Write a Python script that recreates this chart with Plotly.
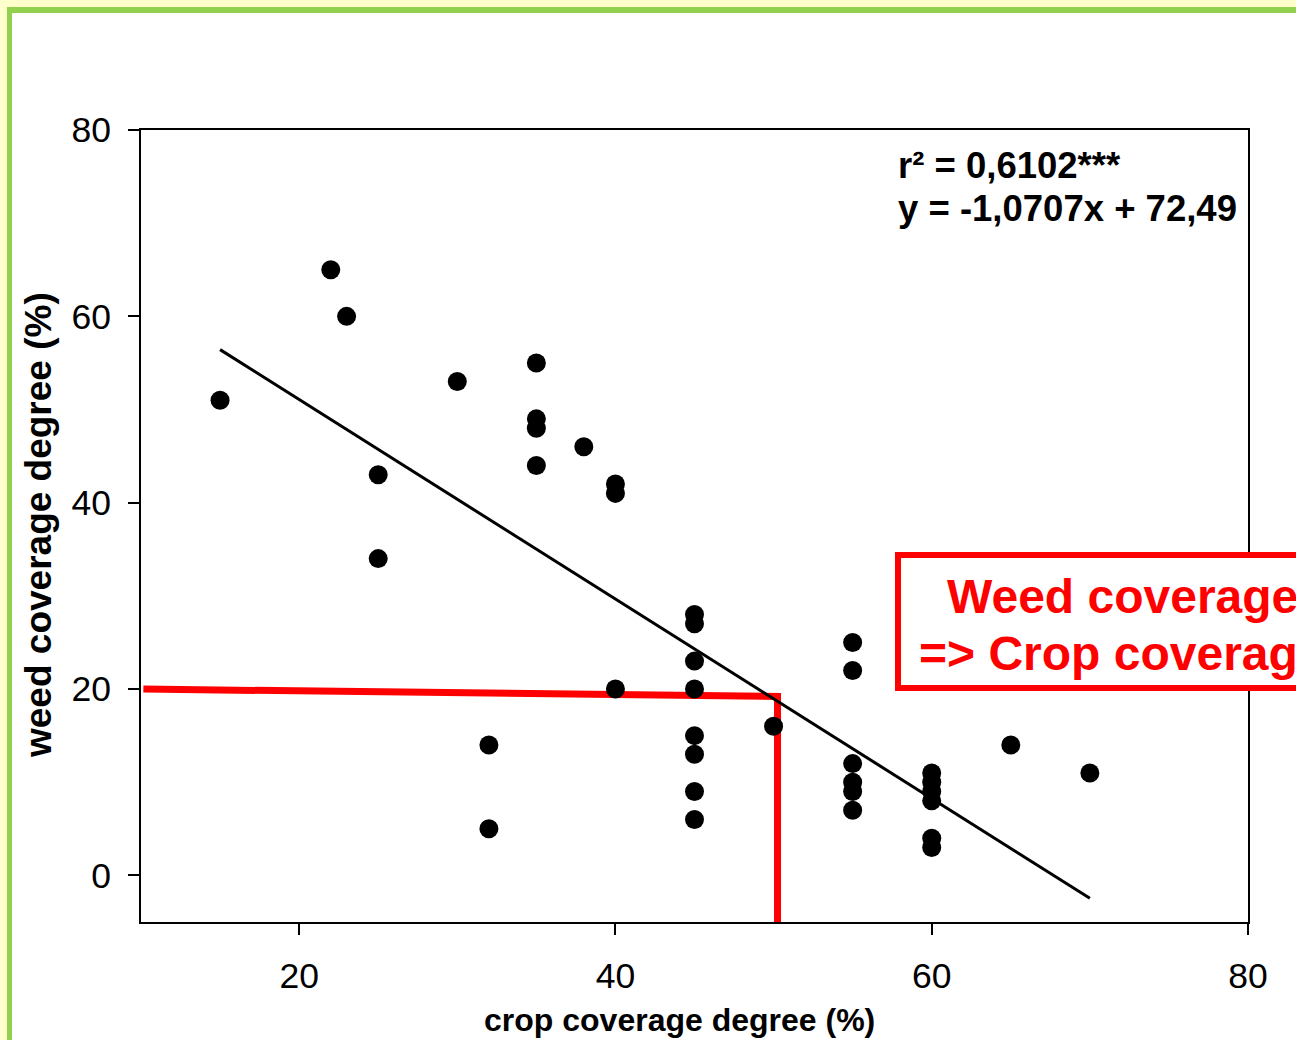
import plotly.graph_objects as go

# ---------------- data ----------------
crop_cov = [15, 22, 23, 25, 25, 30, 32, 32, 35, 35, 35, 35, 38, 40, 40, 40,
            45, 45, 45, 45, 45, 45, 45, 45, 50,
            55, 55, 55, 55, 55, 55,
            60, 60, 60, 60, 60, 60, 65, 70]
weed_cov = [51, 65, 60, 43, 34, 53, 14, 5, 55, 49, 48, 44, 46, 42, 41, 20,
            28, 27, 23, 20, 15, 13, 9, 6, 16,
            25, 22, 12, 10, 9, 7,
            11, 10, 9, 8, 4, 3, 14, 11]

slope = -1.0707
intercept = 72.49
fit_x = [15, 70]
fit_y = [slope * v + intercept for v in fit_x]

threshold_x = [10.15, 50.25, 50.25]
threshold_y = [20, 19.2, -5]

x_ticks = [20, 40, 60, 80]
y_ticks = [0, 20, 40, 60, 80]

r2_text = "r² = 0,6102***"
eq_text = "y = -1,0707x + 72,49"
box_line1 = "Weed coverage < 20 %"
box_line2 = "=> Crop coverage > 50 %"

# ---------------- layout helpers ----------------
W, H = 1296, 1040
L, R, T, B = 141, 48, 130, 118
PW, PH = W - L - R, H - T - B


def px(p):
    return (p - L) / PW


def py(p):
    return (H - B - p) / PH


FONT = "Liberation Sans, Arial, sans-serif"

fig = go.Figure()

fig.add_trace(go.Scatter(
    x=threshold_x, y=threshold_y, mode="lines",
    line=dict(color="#FF0000", width=7), hoverinfo="skip", showlegend=False))

fig.add_trace(go.Scatter(
    x=fit_x, y=fit_y, mode="lines",
    line=dict(color="black", width=3), showlegend=False))

fig.add_trace(go.Scatter(
    x=crop_cov, y=weed_cov, mode="markers",
    marker=dict(color="black", size=19, line=dict(width=0)), showlegend=False))

shapes = [
    # pale yellow outer strip
    dict(type="rect", xref="paper", yref="paper", x0=px(0), x1=px(W), y0=py(0), y1=py(7),
         fillcolor="#FFFFCC", line=dict(width=0), layer="below"),
    dict(type="rect", xref="paper", yref="paper", x0=px(0), x1=px(7), y0=py(0), y1=py(H),
         fillcolor="#FFFFCC", line=dict(width=0), layer="below"),
    # green frame
    dict(type="rect", xref="paper", yref="paper", x0=px(7), x1=px(W), y0=py(7), y1=py(13),
         fillcolor="#92D050", line=dict(width=0), layer="below"),
    dict(type="rect", xref="paper", yref="paper", x0=px(7), x1=px(12), y0=py(7), y1=py(H),
         fillcolor="#92D050", line=dict(width=0), layer="below"),
    # red box
    dict(type="rect", xref="paper", yref="paper", x0=px(898), x1=px(1320), y0=py(555), y1=py(688),
         fillcolor="white", line=dict(color="#FF0000", width=6), layer="above"),
]

annotations = [
    dict(text=r2_text, xref="paper", yref="paper", x=px(896), y=py(165),
         xanchor="left", yanchor="middle", showarrow=False,
         font=dict(family=FONT, size=36.5, color="black", weight="bold")),
    dict(text=eq_text, xref="paper", yref="paper", x=px(896), y=py(208),
         xanchor="left", yanchor="middle", showarrow=False,
         font=dict(family=FONT, size=36.5, color="black", weight="bold")),
    dict(text=box_line1, xref="paper", yref="paper", x=px(945), y=py(596),
         xanchor="left", yanchor="middle", showarrow=False,
         font=dict(family=FONT, size=48, color="#FF0000", weight="bold")),
    dict(text=box_line2, xref="paper", yref="paper", x=px(917), y=py(653),
         xanchor="left", yanchor="middle", showarrow=False,
         font=dict(family=FONT, size=48, color="#FF0000", weight="bold")),
    dict(text="crop coverage degree (%)", xref="paper", yref="paper", x=px(679), y=py(1020),
         xanchor="center", yanchor="middle", showarrow=False,
         font=dict(family=FONT, size=32, color="black", weight="bold")),
    dict(text="weed coverage degree (%)", xref="paper", yref="paper", x=px(38), y=py(525),
         xanchor="center", yanchor="middle", showarrow=False, textangle=-90,
         font=dict(family=FONT, size=37, color="black", weight="bold")),
]

axis_common = dict(
    showline=True, mirror=True, linecolor="black", linewidth=2,
    ticks="outside", ticklen=11, tickwidth=2, tickcolor="black",
    showgrid=False, zeroline=False,
    tickfont=dict(family=FONT, size=35.5, color="black"),
)

fig.update_layout(
    width=W, height=H, autosize=False,
    margin=dict(l=L, r=R, t=T, b=B, pad=0),
    paper_bgcolor="white", plot_bgcolor="white",
    shapes=shapes, annotations=annotations,
    xaxis=dict(range=[10, 80], tickvals=x_ticks, ticklabelstandoff=10, **axis_common),
    yaxis=dict(range=[-5, 80], tickvals=y_ticks, ticklabelstandoff=10, **axis_common),
    showlegend=False,
)

fig.write_html("out.html")
